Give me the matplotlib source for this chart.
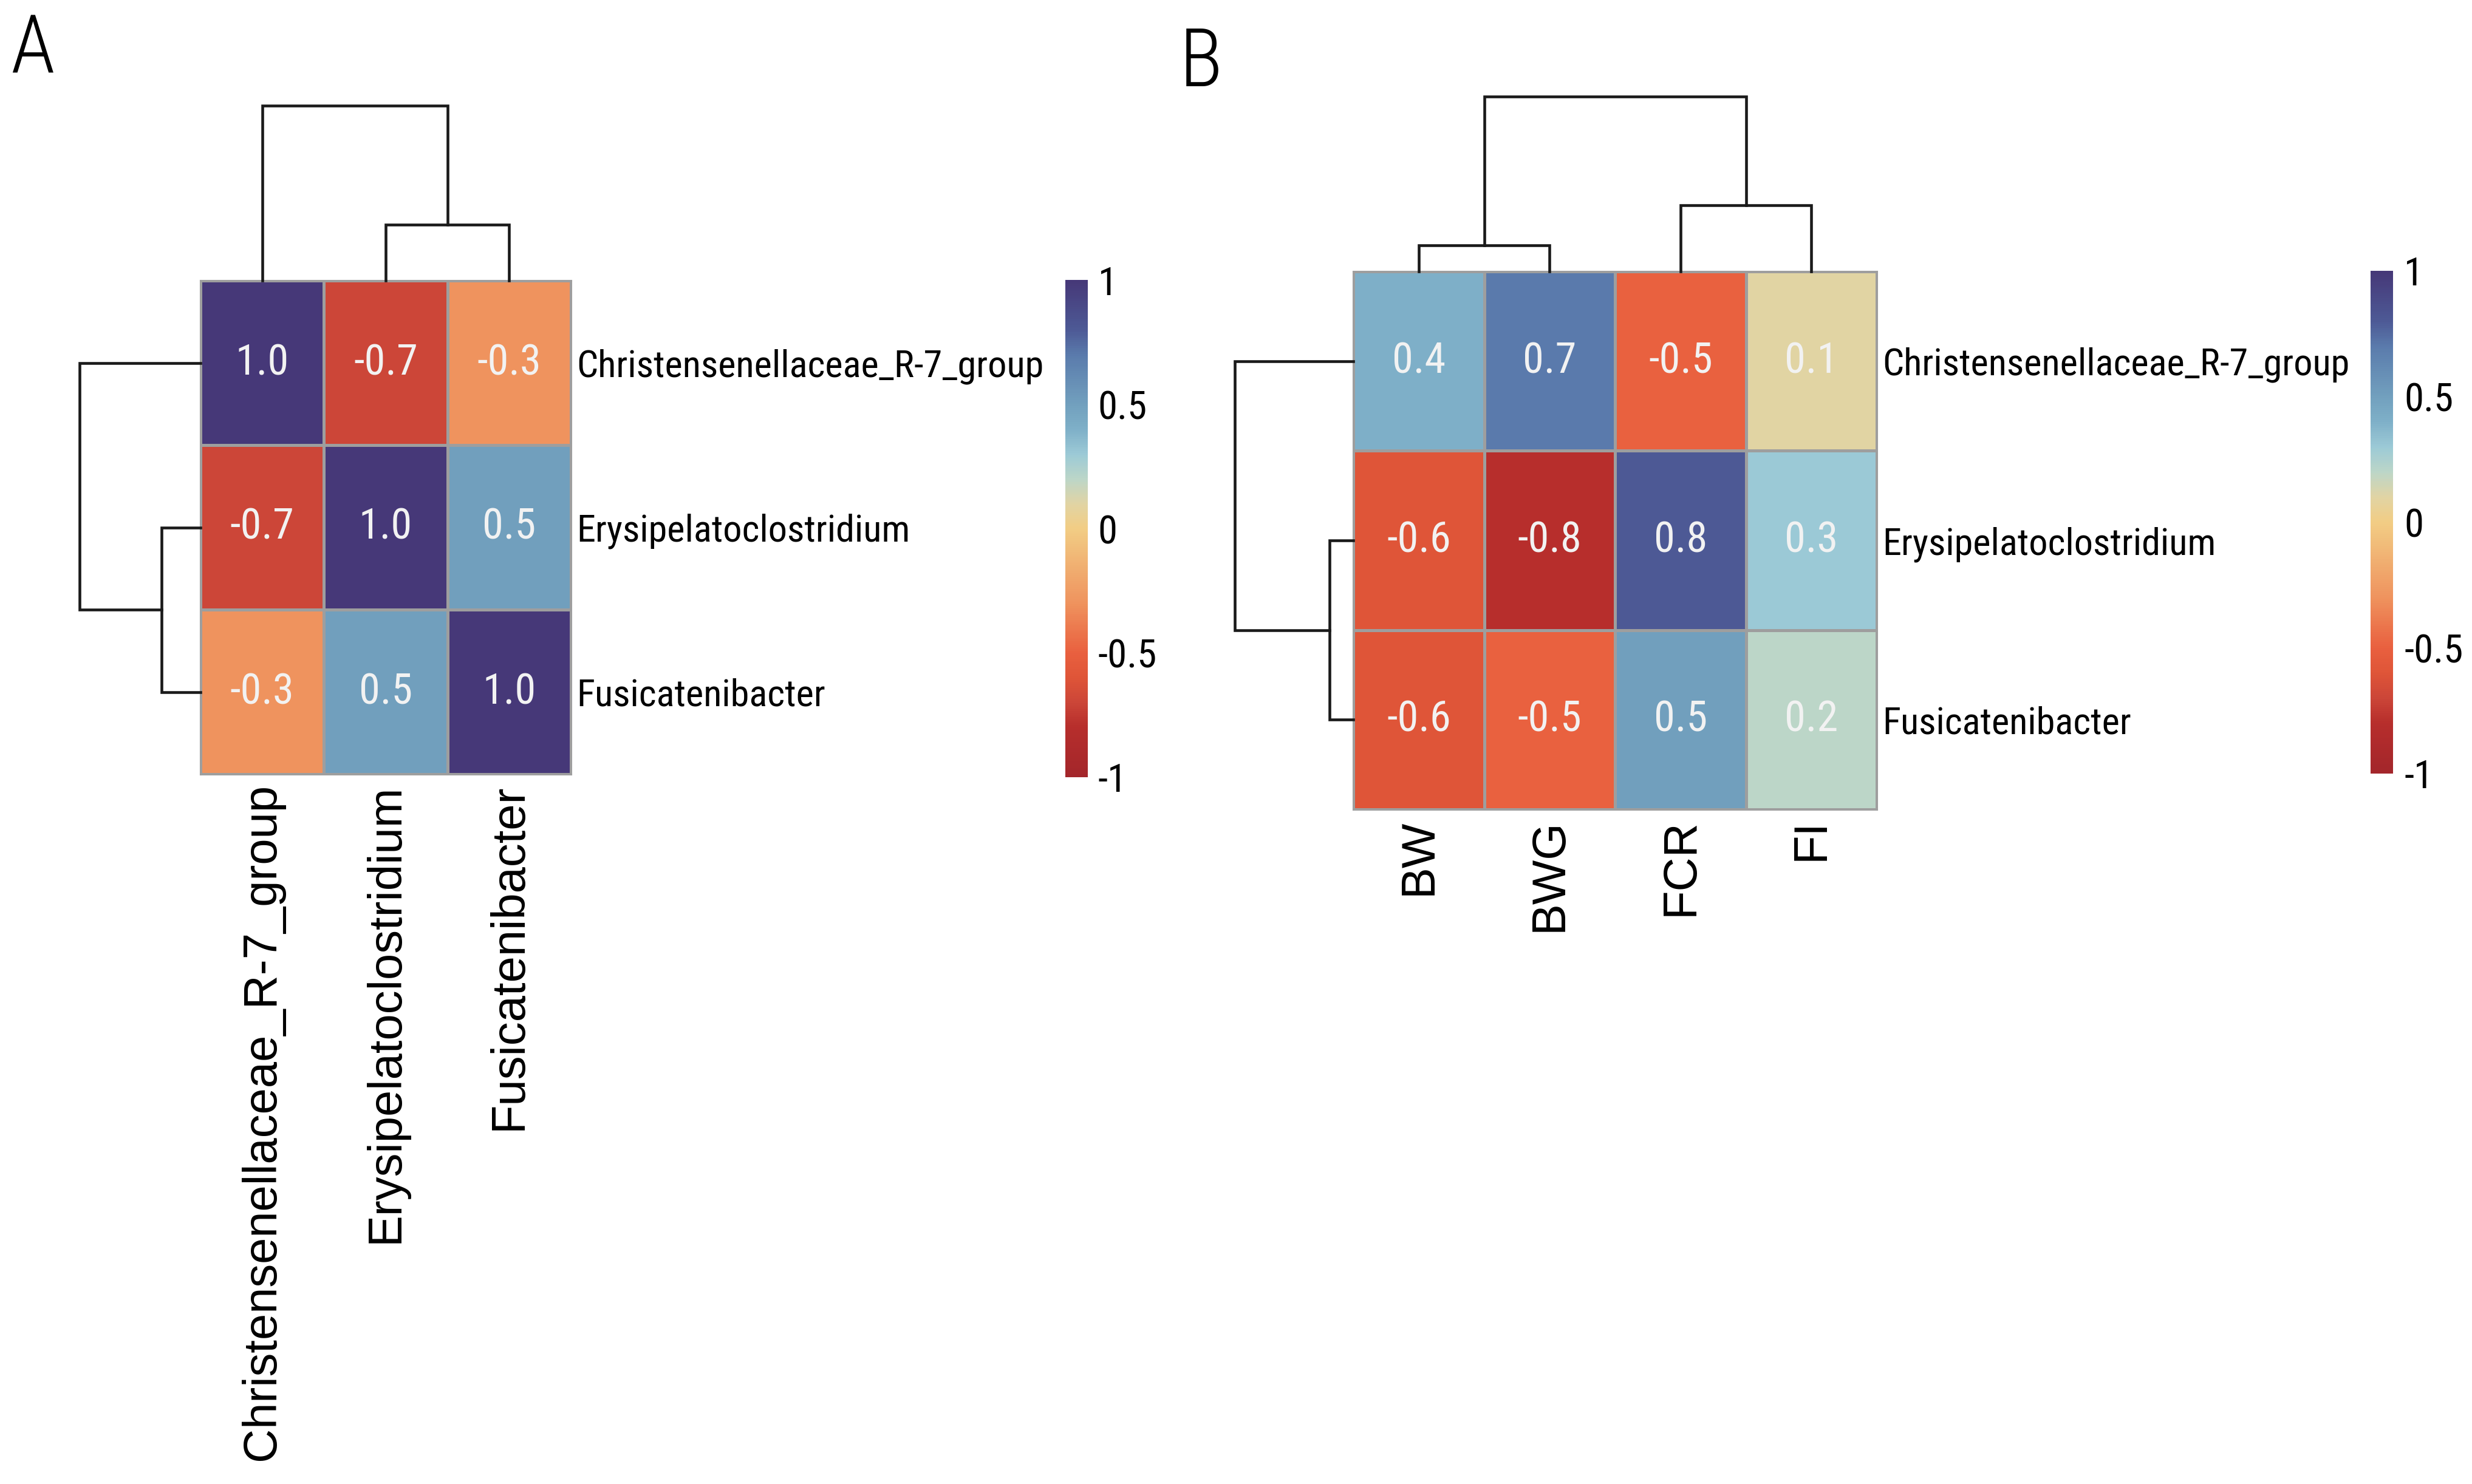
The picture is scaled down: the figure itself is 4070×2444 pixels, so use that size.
import numpy as np
import matplotlib
matplotlib.use("Agg")
import matplotlib.pyplot as plt
from matplotlib import font_manager as fm
from matplotlib.colors import LinearSegmentedColormap, Normalize

# ---- data ----
genera = ['Christensenellaceae_R-7_group', 'Erysipelatoclostridium', 'Fusicatenibacter']
traits = ['BW', 'BWG', 'FCR', 'FI']

corr_a = np.array([[1.0, -0.7, -0.3],
                   [-0.7, 1.0, 0.5],
                   [-0.3, 0.5, 1.0]])

corr_b = np.array([[0.4, 0.7, -0.5, 0.1],
                   [-0.6, -0.8, 0.8, 0.3],
                   [-0.6, -0.5, 0.5, 0.2]])

# linkage rows: (child a, child b, merge height), leaves already in plotted order
link_a = [[1, 2, 0.32], [0, 3, 1.0]]
link_b_cols = [[0, 1, 0.15], [2, 3, 0.38], [4, 5, 1.0]]
link_b_rows = [[1, 2, 0.2], [0, 3, 1.0]]

cbar_ticks = [-1, -0.5, 0, 0.5, 1]
cbar_ticklabels = ['-1', '-0.5', '0', '0.5', '1']


def has_font(fam):
    try:
        fm.findfont(fm.FontProperties(family=fam), fallback_to_default=False)
        return True
    except ValueError:
        return False


# the source figure is horizontally squeezed, so use a narrow face if there is one
NARROW = 'Liberation Sans'
for cand in ['Liberation Sans Narrow', 'Arial Narrow', 'Roboto Condensed',
             'Open Sans Condensed', 'Roboto']:
    if has_font(cand):
        NARROW = cand
        break
REG = ['Liberation Sans', 'DejaVu Sans']
GRID = '#9e9e9e'

cmap_pts = [(-1.0, '#a3262b'), (-0.8, '#b72e2c'), (-0.7, '#cc4638'), (-0.6, '#df5538'),
            (-0.5, '#e9603f'), (-0.3, '#ef935e'), (0.0, '#f2cd84'), (0.1, '#e1d4a4'),
            (0.2, '#bcd6c8'), (0.3, '#9ccad6'), (0.4, '#7fb0c8'), (0.5, '#72a0be'),
            (0.7, '#5a7bac'), (0.8, '#4d5a96'), (1.0, '#463878')]
cmap = LinearSegmentedColormap.from_list('corr', [((v + 1) / 2, c) for v, c in cmap_pts])
norm = Normalize(vmin=-1, vmax=1)

W, H = 4070, 2444
fig = plt.figure(figsize=(W / 100, H / 100), dpi=100)

# fit the narrow text size to the width of the long row label (~769 px in the source)
renderer = fig.canvas.get_renderer()
probe = fig.text(0, 0, genera[0], fontsize=47, family=NARROW)
wprobe = probe.get_window_extent(renderer).width
probe.remove()
k = min(1.0, 769.0 / wprobe)
FS_ROW = 47 * k
FS_CELL = 53 * k
FS_CBAR = 49 * k
FS_PANEL = 100 * k


def box(x0, y0, x1, y1):
    # pixel box measured from top-left -> figure fraction rect
    return [x0 / W, 1 - y1 / H, (x1 - x0) / W, (y1 - y0) / H]


def draw_heat(ax, M, rowlab, collab):
    nr, nc = M.shape
    ax.pcolormesh(M, cmap=cmap, norm=norm, edgecolors=GRID, linewidth=2.2)
    ax.set_xlim(0, nc)
    ax.set_ylim(nr, 0)
    for i in range(nr):
        for j in range(nc):
            ax.text(j + 0.5, i + 0.5, '%.1f' % M[i, j], ha='center', va='center',
                    color='#f2f2f2', fontsize=FS_CELL, family=NARROW)
    ax.set_xticks(np.arange(nc) + 0.5)
    ax.set_xticklabels(collab, rotation=90, fontsize=56, family=REG)
    ax.yaxis.tick_right()
    ax.set_yticks(np.arange(nr) + 0.5)
    ax.set_yticklabels(rowlab, fontsize=FS_ROW, family=NARROW)
    ax.tick_params(axis='y', length=0, pad=7)
    ax.tick_params(axis='x', length=0, pad=11)
    for s in ax.spines.values():
        s.set_color(GRID)
        s.set_linewidth(2.2)


def draw_dendro(ax, link, n, orient):
    pos = {i: i + 0.5 for i in range(n)}
    hgt = {i: 0.0 for i in range(n)}
    for j, (a, b, h) in enumerate(link):
        xs = [pos[a], pos[a], pos[b], pos[b]]
        ys = [hgt[a], h, h, hgt[b]]
        if orient == 'top':
            ax.plot(xs, ys, color='#1a1a1a', lw=3.3, clip_on=False, solid_joinstyle='miter')
        else:
            ax.plot(ys, xs, color='#1a1a1a', lw=3.3, clip_on=False, solid_joinstyle='miter')
        pos[n + j] = (pos[a] + pos[b]) / 2
        hgt[n + j] = h
    if orient == 'top':
        ax.set_xlim(0, n)
        ax.set_ylim(0, 1.0)
    else:
        ax.set_xlim(1.0, 0)
        ax.set_ylim(n, 0)
    ax.axis('off')


def draw_cbar(rect, pad):
    cax = fig.add_axes(rect)
    cb = fig.colorbar(plt.cm.ScalarMappable(norm=norm, cmap=cmap), cax=cax)
    cb.outline.set_visible(False)
    cb.set_ticks(cbar_ticks)
    cb.set_ticklabels(cbar_ticklabels)
    cax.tick_params(length=0, pad=pad)
    for t in cax.get_yticklabels():
        t.set_fontsize(FS_CBAR)
        t.set_family(NARROW)


# ---- panel A ----
axA = fig.add_axes(box(330, 462, 940, 1275))
draw_heat(axA, corr_a, genera, genera)
draw_dendro(fig.add_axes(box(330, 174, 940, 462)), link_a, 3, 'top')
draw_dendro(fig.add_axes(box(131, 462, 330, 1275)), link_a, 3, 'left')
draw_cbar(box(1754, 461, 1791, 1280), 12)

# ---- panel B ----
axB = fig.add_axes(box(2228, 447, 3090, 1333))
draw_heat(axB, corr_b, genera, traits)
draw_dendro(fig.add_axes(box(2228, 159, 3090, 447)), link_b_cols, 4, 'top')
draw_dendro(fig.add_axes(box(2033, 447, 2228, 1333)), link_b_rows, 3, 'left')
draw_cbar(box(3903, 446, 3940, 1274), 13)

fig.text(17 / W, 1 - 120 / H, 'A', fontsize=FS_PANEL, family=NARROW, weight='light', va='baseline')
fig.text(1942 / W, 1 - 142 / H, 'B', fontsize=FS_PANEL, family=NARROW, weight='light', va='baseline')

fig.savefig('out.png', dpi=100, facecolor='white')
